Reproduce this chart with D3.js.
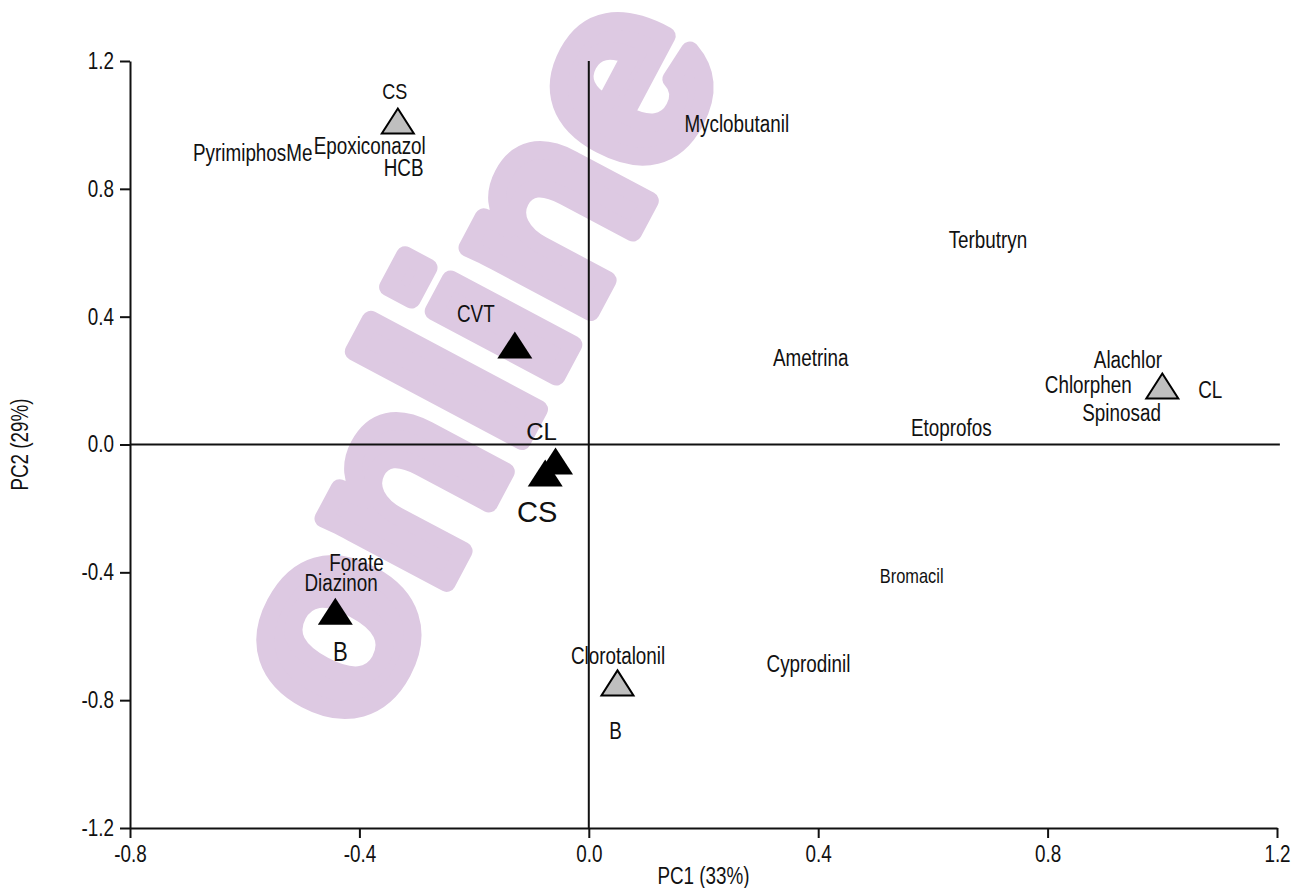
<!DOCTYPE html>
<html><head><meta charset="utf-8">
<script src="https://cdn.jsdelivr.net/npm/d3@7"></script>
<style>
html,body{margin:0;padding:0;background:#fff;}
svg{display:block;}
text{font-family:"Liberation Sans",Arial,sans-serif;fill:#111;}
</style></head><body>
<svg id="chart" width="1302" height="888"></svg>
<script>
// Variable loadings, shown as text at their (PC1, PC2) position
const loadingNames = ["PyrimiphosMe","Epoxiconazol","HCB","Myclobutanil","Terbutryn","Ametrina","Alachlor","Chlorphen","Spinosad","Etoprofos","Bromacil","Cyprodinil","Clorotalonil","Forate","Diazinon"];
const loadingPC1 = [-0.586,-0.382,-0.323,0.258,0.696,0.387,0.940,0.871,0.929,0.632,0.563,0.383,0.051,-0.405,-0.432];
const loadingPC2 = [0.914,0.934,0.867,1.003,0.640,0.270,0.265,0.187,0.101,0.052,-0.411,-0.685,-0.660,-0.370,-0.434];

// Sample scores, drawn as triangles
const scoreNames = ["CVT","CL","CS","B","CS","B","CL"];
const scoreGroup = ["black","black","black","black","gray","gray","gray"];
const scorePC1 = [-0.129,-0.058,-0.076,-0.442,-0.333,0.050,1.000];
const scorePC2 = [0.311,-0.052,-0.089,-0.522,1.012,-0.746,0.183];

const xTicks = [-0.8,-0.4,0,0.4,0.8,1.2];
const yTicks = [-1.2,-0.8,-0.4,0,0.4,0.8,1.2];
const xTitle = "PC1 (33%)";
const yTitle = "PC2 (29%)";
const stampText = "online";

const NARROW = 0.82;   // horizontal squeeze that gives the narrow sans look

const svg = d3.select("#chart");
const x = d3.scaleLinear().domain([-0.8, 1.2]).range([130, 1277]);
const y = d3.scaleLinear().domain([-1.2, 1.2]).range([828, 61]);
const fmt = d3.formatLocale({decimal: ".", thousands: ",", grouping: [3], currency: ["", ""], minus: "-"}).format(".1f");

// background stamp
svg.append("text")
  .attr("transform", "translate(484,367) rotate(-62)")
  .attr("text-anchor", "middle")
  .attr("dy", "0.26em")
  .style("font-family", "'Liberation Sans', Arial, sans-serif")
  .style("font-weight", "bold")
  .style("font-size", "263px")
  .style("fill", "#ddc9e2")
  .style("stroke", "#ddc9e2")
  .style("stroke-width", 18)
  .style("stroke-linejoin", "round")
  .text(stampText);

// axes
const yAxis = svg.append("g").attr("transform", `translate(${x(-0.8)},0)`)
  .call(d3.axisLeft(y).tickValues(yTicks).tickSize(10).tickSizeOuter(0).tickPadding(6).tickFormat(fmt));
const xAxis = svg.append("g").attr("transform", `translate(0,${y(-1.2)})`)
  .call(d3.axisBottom(x).tickValues(xTicks).tickSize(10).tickSizeOuter(0).tickPadding(8).tickFormat(fmt));
[xAxis, yAxis].forEach(g => {
  g.select(".domain").attr("stroke", "#111").attr("stroke-width", 2);
  g.selectAll(".tick line").attr("stroke", "#111").attr("stroke-width", 2);
  g.selectAll(".tick text").style("font-size", "23px").attr("fill", "#111")
    .style("font-family", "'Liberation Sans',Arial,sans-serif");
});
xAxis.selectAll(".tick text").attr("transform", `scale(${NARROW},1)`);
yAxis.selectAll(".tick text").attr("x", -16 / NARROW).attr("transform", `scale(${NARROW},1)`);

// zero reference lines
svg.append("line").attr("x1", x(-0.8)).attr("x2", x(1.205)).attr("y1", y(0)).attr("y2", y(0))
  .attr("stroke", "#111").attr("stroke-width", 2);
svg.append("line").attr("x1", x(0)).attr("x2", x(0)).attr("y1", y(1.2)).attr("y2", y(-1.2))
  .attr("stroke", "#111").attr("stroke-width", 2);

// axis titles
svg.append("text")
  .attr("transform", `translate(${(x(-0.8) + x(1.2)) / 2},884) scale(${NARROW},1)`)
  .attr("text-anchor", "middle").style("font-size", "23px").text(xTitle);
svg.append("text")
  .attr("transform", `translate(28,${(y(-1.2) + y(1.2)) / 2}) rotate(-90) scale(${NARROW},1)`)
  .attr("text-anchor", "middle").style("font-size", "23px").text(yTitle);

// loadings as text
const loadings = loadingNames.map((n, i) => ({name: n, pc1: loadingPC1[i], pc2: loadingPC2[i]}));
svg.append("g").selectAll("text").data(loadings).join("text")
  .attr("transform", d => `translate(${x(d.pc1)},${y(d.pc2)}) scale(${NARROW},1)`)
  .attr("dy", "0.36em").attr("text-anchor", "middle")
  .style("font-size", d => d.name === "Bromacil" ? "20px" : "23px")
  .text(d => d.name);

// triangle marker path, centred on its bounding box
function triangle(cx, cy, w, h) {
  const p = d3.path();
  p.moveTo(cx, cy - h / 2);
  p.lineTo(cx + w / 2, cy + h / 2);
  p.lineTo(cx - w / 2, cy + h / 2);
  p.closePath();
  return p.toString();
}

const scores = scoreNames.map((n, i) => ({name: n, group: scoreGroup[i], pc1: scorePC1[i], pc2: scorePC2[i]}));
// label offsets (px), size and width factor for each score label
const labelLayout = [
  {dx: -39, dy: -31, size: 23, sx: NARROW},
  {dx: -14, dy: -30, size: 24, sx: 1},
  {dx: -8, dy: 39, size: 29, sx: 1},
  {dx: 5, dy: 40, size: 27, sx: NARROW},
  {dx: -3, dy: -30, size: 22, sx: NARROW},
  {dx: -2, dy: 48, size: 23, sx: NARROW},
  {dx: 48, dy: 4, size: 23, sx: NARROW}
];

const sg = svg.append("g");
sg.selectAll("path").data(scores).join("path")
  .attr("d", d => d.group === "black"
    ? triangle(x(d.pc1), y(d.pc2), 35, 27)
    : triangle(x(d.pc1), y(d.pc2), 32, 25))
  .attr("fill", d => d.group === "black" ? "#000" : "#bfbfbf")
  .attr("stroke", d => d.group === "black" ? "none" : "#000")
  .attr("stroke-width", 2)
  .attr("stroke-linejoin", "miter");

sg.selectAll("text").data(scores).join("text")
  .attr("transform", (d, i) => `translate(${x(d.pc1) + labelLayout[i].dx},${y(d.pc2) + labelLayout[i].dy}) scale(${labelLayout[i].sx},1)`)
  .attr("dy", "0.36em").attr("text-anchor", "middle")
  .style("font-size", (d, i) => labelLayout[i].size + "px")
  .text(d => d.name);
</script>
</body></html>
